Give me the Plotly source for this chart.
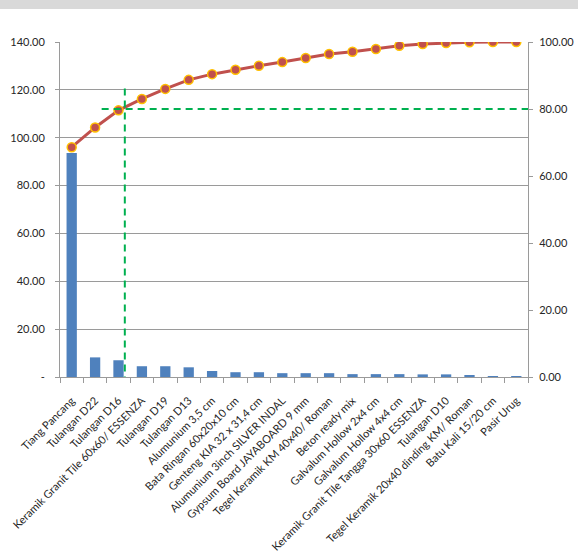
import plotly.graph_objects as go

categories = [
    "Tiang Pancang", "Tulangan D22", "Tulangan D16",
    "Keramik Granit Tile 60x60/ ESSENZA", "Tulangan D19", "Tulangan D13",
    "Alumunium 3,5 cm", "Bata Ringan 60x20x10 cm", "Genteng KIA 32 x 31,4 cm",
    "Alumunium 3inch SILVER INDAL", "Gypsum Board JAYABOARD 9 mm",
    "Tegel Keramik KM 40x40/ Roman", "Beton ready mix", "Galvalum Hollow 2x4 cm",
    "Galvalum Hollow 4x4 cm", "Keramik Granit Tile Tangga 30x60 ESSENZA",
    "Tulangan D10", "Tegel Keramik 20x40 dinding KM/ Roman",
    "Batu Kali 15/20 cm", "Pasir Urug",
]
bar_values = [93.6, 8.2, 7.0, 4.5, 4.5, 4.05, 2.5, 2.0, 2.0, 1.6,
              1.6, 1.6, 1.2, 1.2, 1.2, 1.1, 1.1, 0.5, 0.4, 0.1]
cumulative_pct = [68.6, 74.5, 79.6, 83.0, 86.0, 88.7, 90.4, 91.7, 92.9, 94.0,
                  95.2, 96.4, 97.1, 97.9, 98.9, 99.4, 99.7, 99.9, 100.0, 100.0]

left_ticks = [0, 20, 40, 60, 80, 100, 120, 140]
left_ticktext = ["-", "20.00", "40.00", "60.00", "80.00", "100.00", "120.00", "140.00"]
right_ticks = [0, 20, 40, 60, 80, 100]
right_ticktext = ["0.00", "20.00", "40.00", "60.00", "80.00", "100.00"]

threshold_pct = 80
cut_x = 2.27        # category position of vertical cut line
cut_top = 120.6     # left-axis value where vertical cut line starts
hline_start = 1.28  # category position where horizontal 80% line starts

FONT = "Lato"
TXT = "#262626"
GRID = "#9a9a9a"

fig = go.Figure()
fig.add_trace(go.Bar(
    x=categories, y=bar_values, marker_color="#4F81BD",
    marker_line_width=0, yaxis="y", showlegend=False,
))
fig.add_trace(go.Scatter(
    x=categories, y=cumulative_pct, yaxis="y2", mode="lines+markers",
    line=dict(color="#C0504D", width=3),
    marker=dict(size=9, color="#C0504D", line=dict(color="#FFC000", width=1.5)),
    showlegend=False,
))

green = dict(color="#00B050", width=2, dash="7px,5px")
fig.add_shape(type="line", xref="x", yref="y", x0=cut_x, x1=cut_x, y0=cut_top, y1=0, line=green)
fig.add_shape(type="line", xref="x", yref="y2", x0=hline_start, x1=19.5,
              y0=threshold_pct, y1=threshold_pct, line=green)
# watermark band at top of the image
fig.add_shape(type="rect", xref="paper", yref="paper", x0=-0.2, x1=1.2,
              y0=(377 - 9) / 335, y1=(377 + 5) / 335,
              fillcolor="#d9d9d9", line_width=0, layer="below")

fig.update_layout(
    width=578, height=553,
    margin=dict(l=60, r=50, t=42, b=176),
    paper_bgcolor="white", plot_bgcolor="white",
    font=dict(family=FONT, size=12, color=TXT),
    bargap=0.56,
    xaxis=dict(
        type="category", range=[-0.5, 19.5], tickangle=-45, automargin=False,
        ticks="outside", tickson="boundaries", ticklen=5, tickcolor=GRID,
        showline=True, linecolor=GRID, linewidth=1, showgrid=False,
        tickfont=dict(size=11, color=TXT), ticklabelstandoff=12,
    ),
    yaxis=dict(
        range=[0, 140], tickvals=left_ticks, ticktext=left_ticktext, automargin=False,
        ticks="outside", ticklen=4, tickcolor=GRID,
        showline=True, linecolor=GRID, showgrid=True, gridcolor=GRID,
        zeroline=False, tickfont=dict(size=11, color=TXT), ticklabelstandoff=8,
    ),
    yaxis2=dict(
        range=[0, 100], tickvals=right_ticks, ticktext=right_ticktext, automargin=False,
        overlaying="y", side="right", ticks="outside", ticklen=4, tickcolor=GRID,
        showline=True, linecolor=GRID, showgrid=False, zeroline=False,
        tickfont=dict(size=11, color=TXT), ticklabelstandoff=4,
    ),
)

fig.write_html("out.html")
